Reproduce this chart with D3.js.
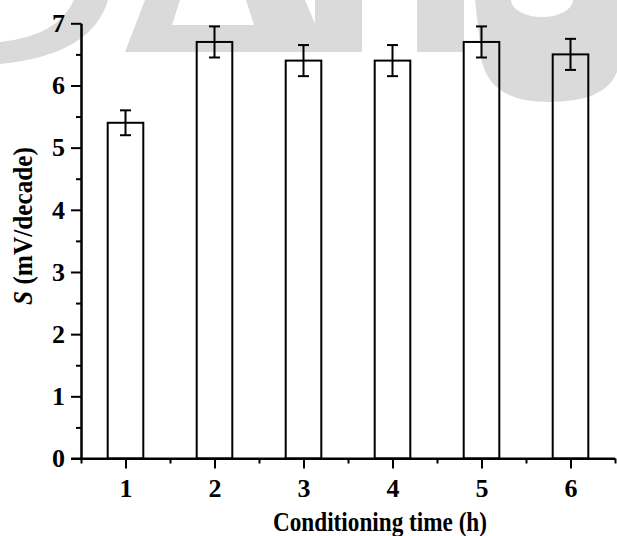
<!DOCTYPE html>
<html>
<head>
<meta charset="utf-8">
<script src="https://cdn.jsdelivr.net/npm/d3@7"></script>
<style>
  html, body { margin: 0; padding: 0; background: #fff; }
  svg { display: block; }
  text { font-family: "Liberation Serif", "Times New Roman", serif; font-weight: bold; fill: #000; }
</style>
</head>
<body>
<svg id="chart" width="617" height="536"></svg>
<script>
// ---- data ----
const categories = [1, 2, 3, 4, 5, 6];
const slopeValues = [5.4, 6.7, 6.4, 6.4, 6.7, 6.5];
const slopeErrors = [0.2, 0.25, 0.25, 0.25, 0.25, 0.25];
const yTickValues = [0, 1, 2, 3, 4, 5, 6, 7];
const yMinorTicks = [0.5, 1.5, 2.5, 3.5, 4.5, 5.5, 6.5];
const xMinorTicks = [0.5, 1.5, 2.5, 3.5, 4.5, 5.5, 6.5];
const xTitle = "Conditioning time (h)";
const yTitleItalic = "S";
const yTitleRest = " (mV/decade)";

const svg = d3.select("#chart");

// ---- background watermark (decorative) ----
const wm = svg.append("g").attr("fill", "#dadada");
wm.append("path").attr("d", "M0,0 L108,0 Q92,55 0,64 L0,42 Q58,36 74,0 Z");
wm.append("path").attr("d", "M145,0 L180,0 L172,25 L254,25 L246,0 L305,0 L327,52 L125,52 Z");
wm.append("rect").attr("x", 315).attr("y", 0).attr("width", 47).attr("height", 52);
wm.append("rect").attr("x", 417).attr("y", 0).attr("width", 47).attr("height", 52);
wm.append("path").attr("d", "M475,0 L617,0 L617,72 Q606,102 548,102 Q492,102 482,62 Z");
svg.append("ellipse").attr("cx", 542).attr("cy", 0).attr("rx", 31).attr("ry", 17).attr("fill", "#fff");

// ---- scales ----
const x = d3.scaleLinear().domain([0.5, 6.5]).range([81, 615]);
const y = d3.scaleLinear().domain([0, 7]).range([458.5, 23.3]);

// ---- bars ----
const barHalf = 0.2;
svg.append("g").selectAll("rect").data(categories).join("rect")
  .attr("x", (d) => x(d - barHalf))
  .attr("width", (d) => x(d + barHalf) - x(d - barHalf))
  .attr("y", (d, i) => y(slopeValues[i]))
  .attr("height", (d, i) => y(0) - y(slopeValues[i]))
  .attr("fill", "none").attr("stroke", "#000").attr("stroke-width", 2);

// ---- error bars ----
const eg = svg.append("g").attr("stroke", "#000").attr("stroke-width", 2);
const capHalf = 5.5;
categories.forEach((c, i) => {
  const cx = x(c);
  const top = y(slopeValues[i] + slopeErrors[i]);
  const bot = y(slopeValues[i] - slopeErrors[i]);
  eg.append("line").attr("x1", cx).attr("x2", cx).attr("y1", top).attr("y2", bot);
  eg.append("line").attr("x1", cx - capHalf).attr("x2", cx + capHalf).attr("y1", top).attr("y2", top);
  eg.append("line").attr("x1", cx - capHalf).attr("x2", cx + capHalf).attr("y1", bot).attr("y2", bot);
});

// ---- axes ----
function styleAxis(g) {
  g.attr("font-size", null).attr("font-family", null);
  g.selectAll("path.domain").attr("stroke", "#000").attr("stroke-width", 2);
  g.selectAll(".tick line").attr("stroke", "#000").attr("stroke-width", 2);
  g.selectAll(".tick text").style("font-family", "'Liberation Serif', 'Times New Roman', serif")
    .style("font-weight", "bold").style("font-size", "26px").attr("fill", "#000");
}

// x minor
svg.append("g").attr("transform", `translate(0,${y(0)})`)
  .call(d3.axisBottom(x).tickValues(xMinorTicks).tickSize(5).tickSizeOuter(0).tickFormat(""))
  .call(styleAxis);
// x major
const xAxis = svg.append("g").attr("transform", `translate(0,${y(0)})`)
  .call(d3.axisBottom(x).tickValues(categories).tickSize(10).tickSizeOuter(0).tickPadding(10).tickFormat(d3.format("d")))
  .call(styleAxis);
xAxis.select("path.domain").attr("d", `M${x(0.5) - 10},0H${x(6.5)}`);

// y minor
svg.append("g").attr("transform", `translate(${x(0.5)},0)`)
  .call(d3.axisLeft(y).tickValues(yMinorTicks).tickSize(5).tickSizeOuter(0).tickFormat(""))
  .call(styleAxis);
// y major
svg.append("g").attr("transform", `translate(${x(0.5)},0)`)
  .call(d3.axisLeft(y).tickValues(yTickValues).tickSize(10).tickSizeOuter(0).tickPadding(6).tickFormat(d3.format("d")))
  .call(styleAxis);

// ---- axis titles ----
svg.append("text")
  .attr("x", 380).attr("y", 531)
  .attr("text-anchor", "middle")
  .style("font-size", "28px")
  .attr("textLength", 214).attr("lengthAdjust", "spacingAndGlyphs")
  .text(xTitle);

const yt = svg.append("text")
  .attr("transform", "translate(32,226) rotate(-90)")
  .attr("text-anchor", "middle")
  .style("font-size", "28px")
  .attr("textLength", 158).attr("lengthAdjust", "spacingAndGlyphs");
yt.append("tspan").style("font-style", "italic").text(yTitleItalic);
yt.append("tspan").text(yTitleRest);
</script>
</body>
</html>
